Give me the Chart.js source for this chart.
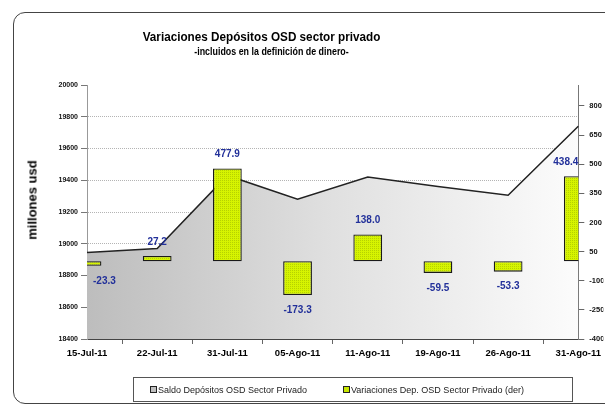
<!DOCTYPE html>
<html><head><meta charset="utf-8">
<script src="https://cdn.jsdelivr.net/npm/chart.js@4.4.0/dist/chart.umd.min.js"></script>
<style>
html,body{margin:0;padding:0;background:#fff;width:605px;height:405px;overflow:hidden;}
#wrap{position:relative;width:605px;height:405px;font-family:"Liberation Sans",Arial,sans-serif;}
#frame{position:absolute;left:13px;top:12px;width:640px;height:392px;border:1.5px solid #444;border-radius:12px;box-sizing:border-box;}
#c{position:absolute;left:0;top:0;}
.t1{position:absolute;left:-41px;width:605px;text-align:center;top:29px;font-weight:bold;font-size:13.5px;color:#000;line-height:16px;transform:scaleX(0.868);}
.t2{position:absolute;left:-31px;width:605px;text-align:center;top:45px;font-weight:bold;font-size:10.5px;color:#000;line-height:13px;transform:scaleX(0.846);}
.ytitle{position:absolute;left:32px;top:200px;transform:translate(-50%,-50%) rotate(-90deg);font-weight:bold;font-size:13px;white-space:nowrap;}
#legend{position:absolute;left:133px;top:377px;width:440px;height:25px;border:1px solid #555;box-sizing:border-box;font-size:9px;color:#222;}
.li{position:absolute;top:6px;white-space:nowrap;line-height:12px;}
.mk{display:inline-block;width:5px;height:5px;border:1px solid #222;margin-right:1px;vertical-align:0px;}
</style></head>
<body><div id="wrap">
<div id="frame"></div>
<canvas id="c" width="605" height="405"></canvas>
<div class="t1">Variaciones Depósitos OSD sector privado</div>
<div class="t2">-incluidos en la definición de dinero-</div>
<div class="ytitle">millones usd</div>
<div id="legend">
  <div class="li" style="left:16px"><span class="mk" style="background:#c0c0c0"></span>Saldo Depósitos OSD Sector Privado</div>
  <div class="li" style="left:209px"><span class="mk" style="background:#c8e600"></span>Variaciones Dep. OSD Sector Privado (der)</div>
</div>
</div>
<script>
const categories = ['15-Jul-11','22-Jul-11','31-Jul-11','05-Ago-11','11-Ago-11','19-Ago-11','26-Ago-11','31-Ago-11'];
const saldo = [18945, 18970, 19430, 19280, 19420, 19360, 19305, 19740];
const variaciones = [-23.3, 27.2, 477.9, -173.3, 138.0, -59.5, -53.3, 438.4];
const leftTicks = [18400, 18600, 18800, 19000, 19200, 19400, 19600, 19800, 20000];
const rightTicks = [-400, -250, -100, 50, 200, 350, 500, 650, 800];

const FONT = '"Liberation Sans",Arial,sans-serif';

// bar pattern
const pc = document.createElement('canvas');
pc.width = 2; pc.height = 2;
const px = pc.getContext('2d');
px.fillStyle = '#d6f400'; px.fillRect(0,0,2,2);
px.fillStyle = '#b6d200'; px.fillRect(0,0,1,1);
const ctx = document.getElementById('c').getContext('2d');
const barPattern = ctx.createPattern(pc, 'repeat');

const labelPlugin = {
  id: 'barLabels',
  afterDatasetsDraw(chart) {
    const meta = chart.getDatasetMeta(0);
    const a = chart.chartArea;
    const c = chart.ctx;
    c.save();
    c.font = 'bold 10px ' + FONT;
    c.fillStyle = '#22309a';
    c.textBaseline = 'middle';
    c.textAlign = 'center';
    meta.data.forEach((el, i) => {
      const v = variaciones[i];
      const txt = v.toFixed(1);
      const w = c.measureText(txt).width;
      let x = el.x;
      x = Math.max(a.left + 6 + w / 2, Math.min(a.right - w / 2, x));
      const y = v >= 0 ? el.y - 14 : el.y + 15;
      c.fillText(txt, x, y);
    });
    c.restore();
  }
};

new Chart(ctx, {
  data: {
    labels: categories,
    datasets: [
      {
        type: 'bar', label: 'Variaciones Dep. OSD Sector Privado (der)',
        data: variaciones, yAxisID: 'y1', order: 0,
        backgroundColor: barPattern, borderColor: '#1a1a1a', borderWidth: 1.3,
        borderSkipped: false, barPercentage: 0.41, categoryPercentage: 1
      },
      {
        type: 'line', label: 'Saldo Depósitos OSD Sector Privado',
        data: saldo, yAxisID: 'y', order: 1,
        borderColor: '#222', borderWidth: 1.5, pointRadius: 0, tension: 0,
        fill: 'start',
        backgroundColor: (c) => {
          const a = c.chart.chartArea;
          if (!a) return '#ccc';
          const g = c.chart.ctx.createLinearGradient(a.left, 0, a.right, 0);
          g.addColorStop(0, '#bdbdbd');
          g.addColorStop(0.5, '#e0e0e0');
          g.addColorStop(1, '#fcfcfc');
          return g;
        }
      }
    ]
  },
  options: {
    responsive: false, animation: false,
    layout: { padding: { left: 0, top: 85, right: 0, bottom: 0 } },
    plugins: { legend: { display: false }, tooltip: { enabled: false }, title: { display: false } },
    scales: {
      x: {
        type: 'category', offset: false,
        grid: { drawOnChartArea: false, drawTicks: true, tickLength: 5, tickColor: '#666' },
        border: { color: '#444', width: 1 },
        ticks: { font: { family: FONT, size: 9.5, weight: 'bold' }, color: '#000', maxRotation: 0, autoSkip: false, padding: 4 },
        afterFit: (s) => { s.height = 66; }
      },
      y: {
        position: 'left', min: 18400, max: 20000,
        afterBuildTicks: (s) => { s.ticks = leftTicks.map(v => ({ value: v })); },
        grid: {
          color: (c) => (c.tick && (c.tick.value === 20000 || c.tick.value === 18400)) ? 'rgba(0,0,0,0)' : '#b4b4b4',
          tickBorderDash: [], tickColor: '#777', tickLength: 6, lineWidth: 1
        },
        border: { color: '#999', width: 1, dash: [1, 1] },
        ticks: { font: { family: FONT, size: 7, weight: 'bold' }, color: '#111', padding: 3, callback: (v) => String(v) },
        afterFit: (s) => { s.width = 87; }
      },
      y1: {
        position: 'right', min: -400, max: 908,
        afterBuildTicks: (s) => { s.ticks = rightTicks.map(v => ({ value: v })); },
        grid: { drawOnChartArea: false, tickColor: '#666', tickLength: 6 },
        border: { color: '#777', width: 1 },
        ticks: { font: { family: FONT, size: 7.5, weight: 'bold' }, color: '#111', padding: 5, callback: (v) => String(v) },
        afterFit: (s) => { s.width = 25; }
      }
    }
  },
  plugins: [labelPlugin]
});
</script>
</body></html>
